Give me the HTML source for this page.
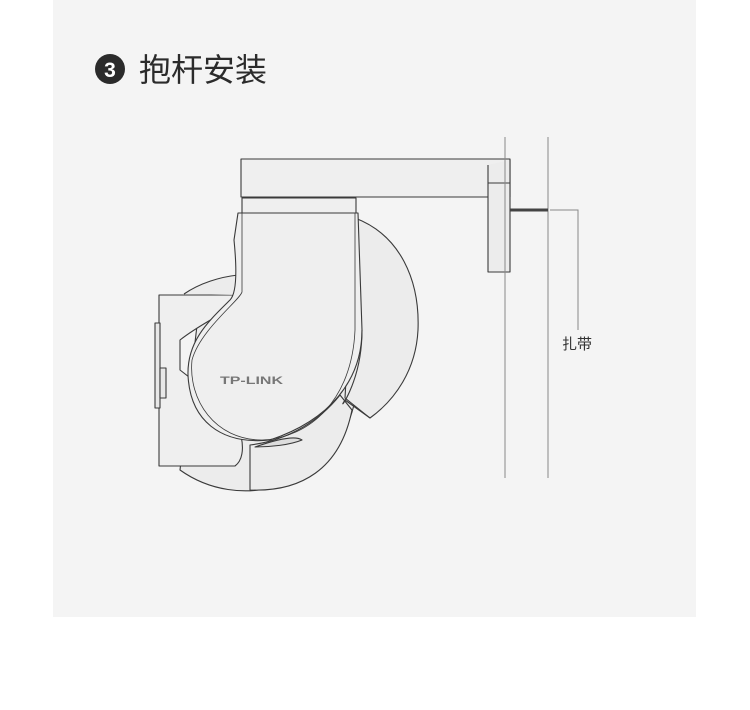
<!DOCTYPE html>
<html><head><meta charset="utf-8"><style>
body{margin:0;background:#fff;width:750px;height:710px;overflow:hidden;font-family:"Liberation Sans","Noto Sans CJK SC",sans-serif}
.panel{position:absolute;left:53px;top:0;width:643px;height:617px;background:#f4f4f4}
svg{position:absolute;left:0;top:0}
</style></head><body>
<div class="panel"></div>
<svg width="750" height="710" viewBox="0 0 750 710">
<g stroke="#3a3a3a" stroke-width="1.1" fill="#efefef" stroke-linejoin="round">
<path d="M180,470 A112,112 0 0 0 355,400 L355,300 L200,300 Z" fill="#ececec"/>
<path d="M355,218 C400,235 420,280 418,330 C416,370 395,400 370,418 L345,398 Z" fill="#ececec"/>
<path d="M159,295 L159,466 L235,466 C250,455 240,420 225,405 L180,370 L180,340 C205,320 235,310 243,295 Z" fill="#efefef"/>
<rect x="155" y="323" width="5" height="85" fill="#e8e8e8"/>
<rect x="160" y="368" width="6" height="30" fill="#e8e8e8"/>
<path d="M184,294 C200,283 220,277 238,275 L238,295" fill="#ececec"/>
<path d="M250,445 L250,490 C300,492 340,470 352,410 L340,395 C320,420 290,440 250,445 Z" fill="#ececec"/>
<path d="M255,447 C275,440 295,435 302,440 C290,445 270,447 255,447Z" fill="#ddd"/>
<path d="M238,213 L358,213 L362,330 C362,380 330,420 270,440 C220,445 190,420 188,375 C187,340 210,320 230,300 C238,292 236,260 234,240 Z" fill="#efefef"/>
<path d="M362,330 C362,385 335,415 345,400 L370,418" fill="none"/>
<path d="M242,213 L242,292 C240,300 200,330 192,360 C188,400 215,440 262,440 C310,438 352,400 355,330 L355,213" fill="none" stroke-width="0.8"/>
<rect x="242" y="198" width="114" height="15"/>
<rect x="241" y="159" width="269" height="38"/>
<path d="M488,165 L488,272 L510,272 L510,160" fill="#ececec"/>
<line x1="488" y1="183" x2="510" y2="183"/>
</g>
<text x="220" y="384" font-size="11" font-weight="bold" fill="#777" textLength="63" lengthAdjust="spacingAndGlyphs" font-family="Liberation Sans,sans-serif">TP-LINK</text>
<g stroke="#888" stroke-width="1">
<line x1="505" y1="137" x2="505" y2="478"/>
<line x1="548" y1="137" x2="548" y2="478"/>
<polyline points="550,210 578,210 578,330" fill="none"/>
</g>
<line x1="510" y1="210" x2="548" y2="210" stroke="#444" stroke-width="3"/>
<text x="562" y="349" font-size="15" fill="#333">扎带</text>
<circle cx="110" cy="69" r="15" fill="#2b2b2b"/>
<text x="110" y="77" font-size="21" font-weight="bold" fill="#fff" text-anchor="middle">3</text>
<text x="139" y="81" font-size="32" fill="#2b2b2b">抱杆安装</text>
</svg>
</body></html>
